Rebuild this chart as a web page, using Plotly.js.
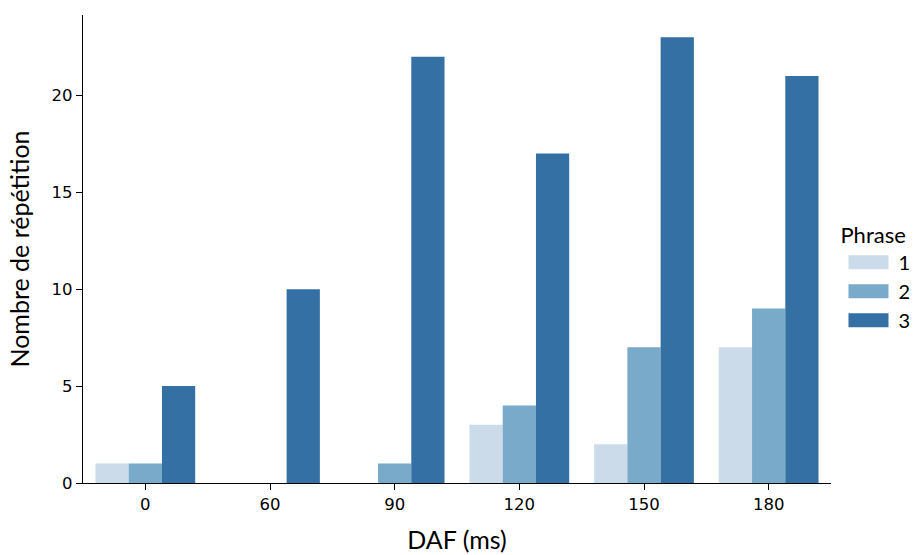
<!DOCTYPE html>
<html><head><meta charset="utf-8">
<script src="https://cdn.plot.ly/plotly-3.0.1.min.js"></script>
<style>body{margin:0;background:#fff}#chart{width:920px;height:555px}</style>
</head><body><div id="chart"></div>
<script>
const categories = ["0", "60", "90", "120", "150", "180"];
const phrase1 = [1, 0, 0, 3, 2, 7];
const phrase2 = [1, 0, 1, 4, 7, 9];
const phrase3 = [5, 10, 22, 17, 23, 21];
const seriesNames = ["1", "2", "3"];
const colors = ["#ccdbea", "#79aac9", "#3470a3"];

const data = [phrase1, phrase2, phrase3].map((v, i) => ({
  type: "bar", x: categories, y: v, name: seriesNames[i],
  marker: {color: colors[i], line: {width: 0}}
}));

const layout = {
  width: 920, height: 555,
  margin: {l: 83, r: 89, t: 15, b: 72, autoexpand: false},
  paper_bgcolor: "#fff", plot_bgcolor: "#fff",
  barmode: "group", bargap: 0.2, bargroupgap: 0,
  font: {family: "DejaVu Sans", color: "#000", size: 16.5},
  xaxis: {
    type: "category", range: [-0.5, 5.5],
    showline: true, linecolor: "#000", linewidth: 1.3,
    ticks: "outside", ticklen: 6, tickwidth: 1.3, tickcolor: "#000",
    showgrid: false, zeroline: false,
    tickfont: {family: "DejaVu Sans", size: 16.5},
    title: {text: "DAF (ms)", font: {family: "Lato", size: 25}, standoff: 18}
  },
  yaxis: {
    range: [0, 24.15], tickvals: [0, 5, 10, 15, 20],
    showline: true, linecolor: "#000", linewidth: 1.3,
    ticks: "outside", ticklen: 6, tickwidth: 1.3, tickcolor: "#000",
    showgrid: false, zeroline: false,
    tickfont: {family: "DejaVu Sans", size: 16.5},
    title: {text: "Nombre de répétition", font: {family: "Lato", size: 25}, standoff: 14}
  },
  legend: {
    x: 1.01, xanchor: "left", y: 0.44, yanchor: "middle",
    title: {text: "Phrase", font: {family: "Lato", size: 22}},
    font: {family: "Lato", size: 20},
    itemwidth: 50, tracegroupgap: 0
  },
  showlegend: true
};
Plotly.newPlot("chart", data, layout, {displayModeBar: false}).then(() => {
  document.querySelectorAll("g.legend .legendpoints path").forEach(p => {
    p.setAttribute("d", "M20,7H-20V-7H20Z");
  });
});
</script></body></html>
